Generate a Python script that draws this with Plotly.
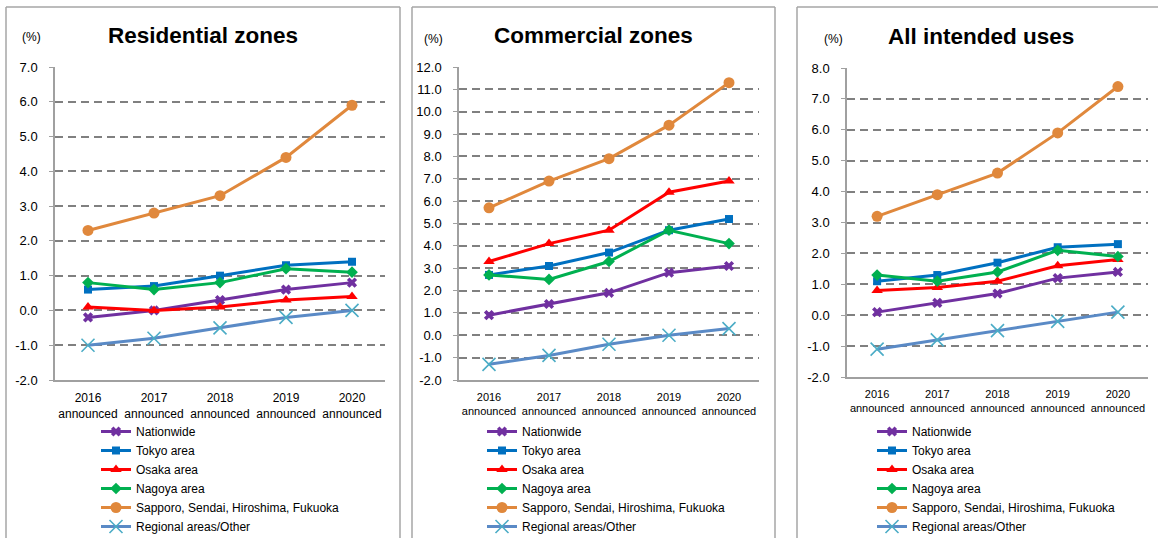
import plotly.graph_objects as go

W, H = 1158, 538

# ---------------- data ----------------
categories = ["2016<br>announced", "2017<br>announced", "2018<br>announced",
              "2019<br>announced", "2020<br>announced"]
series_names = ["Nationwide", "Tokyo area", "Osaka area", "Nagoya area",
                "Sapporo, Sendai, Hiroshima, Fukuoka", "Regional areas/Other"]
panel_titles = ["Residential zones", "Commercial zones", "All intended uses"]

residential_nationwide = [-0.2, 0.0, 0.3, 0.6, 0.8]
residential_tokyo = [0.6, 0.7, 1.0, 1.3, 1.4]
residential_osaka = [0.1, 0.0, 0.1, 0.3, 0.4]
residential_nagoya = [0.8, 0.6, 0.8, 1.2, 1.1]
residential_sapporo = [2.3, 2.8, 3.3, 4.4, 5.9]
residential_regional = [-1.0, -0.8, -0.5, -0.2, 0.0]

commercial_nationwide = [0.9, 1.4, 1.9, 2.8, 3.1]
commercial_tokyo = [2.7, 3.1, 3.7, 4.7, 5.2]
commercial_osaka = [3.3, 4.1, 4.7, 6.4, 6.9]
commercial_nagoya = [2.7, 2.5, 3.3, 4.7, 4.1]
commercial_sapporo = [5.7, 6.9, 7.9, 9.4, 11.3]
commercial_regional = [-1.3, -0.9, -0.4, 0.0, 0.3]

all_nationwide = [0.1, 0.4, 0.7, 1.2, 1.4]
all_tokyo = [1.1, 1.3, 1.7, 2.2, 2.3]
all_osaka = [0.8, 0.9, 1.1, 1.6, 1.8]
all_nagoya = [1.3, 1.1, 1.4, 2.1, 1.9]
all_sapporo = [3.2, 3.9, 4.6, 5.9, 7.4]
all_regional = [-1.1, -0.8, -0.5, -0.2, 0.1]

residential_yticks = [-2, -1, 0, 1, 2, 3, 4, 5, 6, 7]
residential_ylabels = ["-2.0", "-1.0", "0.0", "1.0", "2.0", "3.0", "4.0", "5.0", "6.0", "7.0"]
commercial_yticks = [-2, -1, 0, 1, 2, 3, 4, 5, 6, 7, 8, 9, 10, 11, 12]
commercial_ylabels = ["-2.0", "-1.0", "0.0", "1.0", "2.0", "3.0", "4.0", "5.0", "6.0",
                      "7.0", "8.0", "9.0", "10.0", "11.0", "12.0"]
all_yticks = [-2, -1, 0, 1, 2, 3, 4, 5, 6, 7, 8]
all_ylabels = ["-2.0", "-1.0", "0.0", "1.0", "2.0", "3.0", "4.0", "5.0", "6.0", "7.0", "8.0"]

y_ranges = [(-2, 7), (-2, 12), (-2, 8)]
y_ticks = [residential_yticks, commercial_yticks, all_yticks]
y_labels = [residential_ylabels, commercial_ylabels, all_ylabels]

panels_data = [
    [residential_nationwide, residential_tokyo, residential_osaka,
     residential_nagoya, residential_sapporo, residential_regional],
    [commercial_nationwide, commercial_tokyo, commercial_osaka,
     commercial_nagoya, commercial_sapporo, commercial_regional],
    [all_nationwide, all_tokyo, all_osaka, all_nagoya, all_sapporo, all_regional],
]

# ---------------- styles ----------------
FONT = "Liberation Sans, Arial, sans-serif"
line_colors = ["#7030A0", "#0070C0", "#FF0000", "#00B050", "#E0883C", "#5A8AC6"]
marker_colors = ["#7030A0", "#0070C0", "#FF0000", "#00B050", "#E0883C", "#4BACC6"]
symbols = ["x", "square", "triangle-up", "diamond", "circle", "x-thin"]
sizes = [9, 8, 10, 9, 11, 13]

def px_x(v):
    return v / W

def px_y(v):
    return 1 - v / H

# plot-area geometry (pixels)
x_domains = [(55, 385), (459, 759), (847, 1148)]
y_domains = [(67, 380), (67, 380), (68, 377)]
xtick_font = [12, 11, 11]
xtick_standoff = [6, 6, 6]
title_pos = [(203, 35), (593, 35), (981, 36)]
pct_pos = [(31, 37), (433, 39), (833, 39)]
legend_pos = [(96, 417), (482, 417), (872, 417)]
borders = [(6, 400), (412, 775), (797, None)]

fig = go.Figure()

for p in range(3):
    axn = "" if p == 0 else str(p + 1)
    leg = "legend" if p == 0 else "legend" + str(p + 1)
    for i, name in enumerate(series_names):
        m = dict(symbol=symbols[i], size=sizes[i], color=marker_colors[i])
        if symbols[i] == "x-thin":
            m["line"] = dict(width=1.6, color=marker_colors[i])
        else:
            m["line"] = dict(width=0)
        fig.add_trace(go.Scatter(
            x=categories, y=panels_data[p][i], name=name,
            mode="lines+markers",
            line=dict(color=line_colors[i], width=3),
            marker=m,
            xaxis="x" + axn, yaxis="y" + axn,
            legend=leg, showlegend=True,
        ))

    xd = x_domains[p]
    yd = y_domains[p]
    fig.layout["xaxis" + axn] = dict(
        domain=[px_x(xd[0]), px_x(xd[1])],
        anchor="y" + axn, type="category", range=[-0.5, 4.5],
        automargin=False,
        showgrid=False, zeroline=False,
        showline=True, linecolor="#A0A0A0", linewidth=1.5,
        ticks="", ticklabelstandoff=xtick_standoff[p], tickangle=0,
        tickfont=dict(family=FONT, size=xtick_font[p], color="#000000"),
        fixedrange=True,
    )
    fig.layout["yaxis" + axn] = dict(
        domain=[px_y(yd[1]), px_y(yd[0])],
        anchor="x" + axn, range=list(y_ranges[p]),
        automargin=False,
        tickmode="array", tickvals=y_ticks[p], ticktext=y_labels[p],
        showgrid=True, gridcolor="#808080", gridwidth=1.5, griddash="8px,5px",
        zeroline=False,
        showline=True, linecolor="#A0A0A0", linewidth=1.5,
        ticks="outside", ticklen=4, tickcolor="#A0A0A0", tickwidth=1.3,
        ticklabelstandoff=9,
        tickfont=dict(family=FONT, size=13, color="#000000"),
        fixedrange=True,
    )
    lp = legend_pos[p]
    fig.layout[leg] = dict(
        x=px_x(lp[0]), y=px_y(lp[1]), xanchor="left", yanchor="top",
        bgcolor="rgba(0,0,0,0)", borderwidth=0,
        font=dict(family=FONT, size=12, color="#000000"),
        tracegroupgap=0, itemwidth=30,
    )
    # titles
    tp = title_pos[p]
    fig.add_annotation(x=px_x(tp[0]), y=px_y(tp[1]), xref="paper", yref="paper",
                       text="<b>" + panel_titles[p] + "</b>", showarrow=False,
                       xanchor="center", yanchor="middle",
                       font=dict(family=FONT, size=22.5, color="#000000"))
    pp = pct_pos[p]
    fig.add_annotation(x=px_x(pp[0]), y=px_y(pp[1]), xref="paper", yref="paper",
                       text="(%)", showarrow=False,
                       xanchor="center", yanchor="middle",
                       font=dict(family=FONT, size=12, color="#000000"))
    # panel borders (open at bottom)
    bl, br = borders[p]
    border_style = dict(color="#A6A6A6", width=1.5)
    fig.add_shape(type="line", xref="paper", yref="paper",
                  x0=px_x(bl), x1=px_x(bl), y0=0, y1=px_y(7), line=border_style)
    fig.add_shape(type="line", xref="paper", yref="paper",
                  x0=px_x(bl), x1=px_x(br if br else W), y0=px_y(7), y1=px_y(7),
                  line=border_style)
    if br:
        fig.add_shape(type="line", xref="paper", yref="paper",
                      x0=px_x(br), x1=px_x(br), y0=0, y1=px_y(7), line=border_style)

fig.update_layout(
    width=W, height=H, margin=dict(l=0, r=0, t=0, b=0, autoexpand=False),
    paper_bgcolor="white", plot_bgcolor="white",
    font=dict(family=FONT, color="#000000"),
    hovermode=False,
)

fig.write_html("out.html", config={"displayModeBar": False})
